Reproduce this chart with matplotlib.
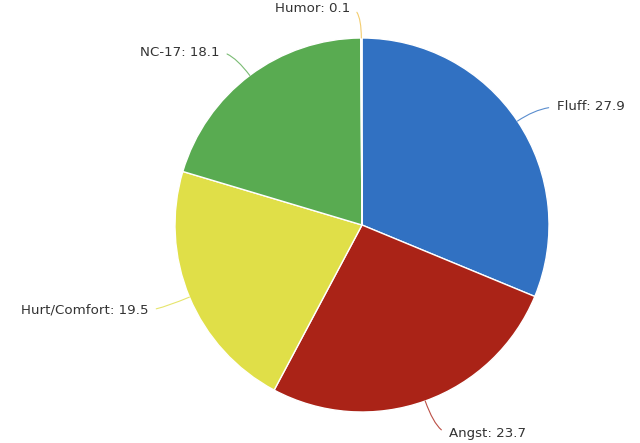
import numpy as np
import matplotlib.pyplot as plt

labels = ["Fluff", "Angst", "Hurt/Comfort", "NC-17", "Humor"]
values = [27.9, 23.7, 19.5, 18.1, 0.1]
colors = ["#3171c2", "#aa2317", "#e0df48", "#59ab51", "#f0c04a"]

# label anchor positions (pixels in the 640x443 frame) and alignment
label_pos = {
    "Fluff": (557, 107, "left"),
    "Angst": (449, 433, "left"),
    "Hurt/Comfort": (148, 310, "right"),
    "NC-17": (219, 52, "right"),
    "Humor": (350, 8, "right"),
}

W, H = 640, 443
cx, cy, R = 362, 225, 187

fig = plt.figure(figsize=(W / 100, H / 100), dpi=100)
ax = fig.add_axes([(cx - R) / W, (H - cy - R) / H, 2 * R / W, 2 * R / H])

wedges, _ = ax.pie(values, colors=colors, startangle=90, counterclock=False,
                   radius=1, wedgeprops=dict(edgecolor="white", linewidth=1))
ax.set_xlim(-1, 1)
ax.set_ylim(-1, 1)
ax.set_aspect("equal")
ax.axis("off")

for w, lab, val in zip(wedges, labels, values):
    ang = np.deg2rad((w.theta1 + w.theta2) / 2)
    x0, y0 = np.cos(ang), np.sin(ang)
    px, py, ha = label_pos[lab]
    tx, ty = (px - cx) / R, (cy - py) / R
    relx = 0 if ha == "left" else 1
    ax.annotate(f"{lab}: {val}", xy=(x0, y0), xytext=(tx, ty),
                ha=ha, va="center", fontsize=9.6, color="#333333",
                annotation_clip=False,
                arrowprops=dict(arrowstyle="-", color=w.get_facecolor(),
                                lw=0.8, alpha=0.8, shrinkA=4, shrinkB=0,
                                relpos=(relx, 0.5),
                                connectionstyle=f"angle3,angleA=0,angleB={np.rad2deg(ang):.1f}"))

fig.savefig("out.png", dpi=100)
